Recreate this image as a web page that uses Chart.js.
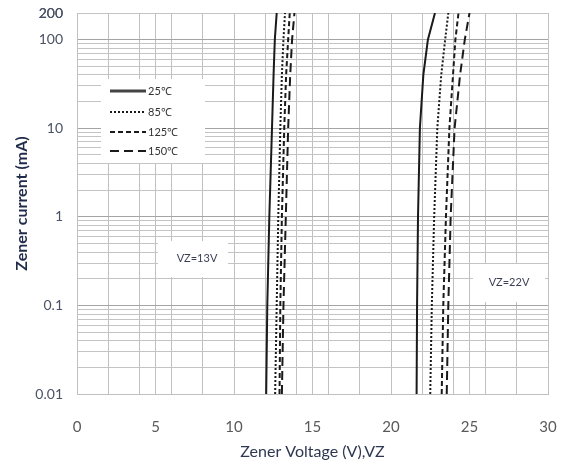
<!DOCTYPE html>
<html>
<head>
<meta charset="utf-8">
<script src="https://cdn.jsdelivr.net/npm/chart.js@4.4.1/dist/chart.umd.min.js"></script>
<style>
  html, body { margin: 0; padding: 0; background: #fff; }
  #chart1 { display: block; }
</style>
</head>
<body>
<canvas id="chart1" width="572" height="463"></canvas>
<script>
    // currents (mA) where the curves were read
    let currents = [0.01, 0.1, 1, 10, 40, 100, 200];

    // VZ=13V part, volts per temperature
    let v13_25 = [12.05, 12.12, 12.25, 12.42, 12.52, 12.6, 12.72];
    let v13_85 = [12.62, 12.72, 12.82, 12.95, 13.05, 13.15, 13.25];
    let v13_125 = [12.9, 12.95, 13.05, 13.2, 13.32, 13.45, 13.55];
    let v13_150 = [13.05, 13.15, 13.3, 13.45, 13.58, 13.7, 13.85];

    // VZ=22V part
    let v22_25 = [21.63, 21.66, 21.72, 21.84, 22.06, 22.35, 22.8];
    let v22_85 = [22.5, 22.6, 22.75, 22.95, 23.2, 23.45, 23.65];
    let v22_125 = [23.23, 23.33, 23.5, 23.72, 23.95, 24.1, 24.3];
    let v22_150 = [23.55, 23.65, 23.8, 24.05, 24.4, 24.7, 25.0];

    let tempLabels = ['25\u2103', '85\u2103', '125\u2103', '150\u2103'];
    let dashes = [[], [2, 2], [5, 3], [9, 5]];

    let xTickLabels = [0, 5, 10, 15, 20, 25, 30];
    let xGridLines = [0, 2, 4, 5, 6, 8, 10, 12, 14, 15, 16, 18, 20, 22, 24, 25, 26, 28, 30];
    let yTickLabels = [0.01, 0.1, 1, 10, 100, 200];

    function pts(volts) {
        return volts.map((v, i) => ({x: v, y: currents[i]}));
    }

    function curve(volts, t) {
        return {
            label: tempLabels[t],
            data: pts(volts),
            showLine: true,
            borderColor: '#1a1a1a',
            borderWidth: 2,
            borderDash: dashes[t],
            pointRadius: 0,
            tension: 0
        };
    }

    // y gridlines: 1..9 in every decade plus the top value
    let yGrid = [];
    for (let d = 0.01; d < 150; d *= 10) {
        for (let k = 1; k <= 9; k++) yGrid.push(Number((k * d).toPrecision(3)));
    }
    yGrid.push(200);

    let overlay = {
        id: 'overlay',
        afterDatasetsDraw(chart) {
            let ctx = chart.ctx;
            ctx.save();
            // legend box
            ctx.fillStyle = '#fff';
            ctx.fillRect(101, 79, 104, 84);
            ctx.fillRect(158, 241, 70, 36);
            ctx.fillRect(473, 264, 72, 38);
            let rows = [91, 112, 132, 151];
            for (let i = 0; i < 4; i++) {
                ctx.beginPath();
                ctx.strokeStyle = i === 0 ? '#444' : '#1a1a1a';
                ctx.lineWidth = i === 0 ? 3 : 2;
                ctx.setLineDash(dashes[i]);
                ctx.moveTo(110, rows[i]);
                ctx.lineTo(146, rows[i]);
                ctx.stroke();
            }
            ctx.setLineDash([]);
            ctx.fillStyle = '#333';
            ctx.font = '11px Lato';
            ctx.textBaseline = 'middle';
            ctx.textAlign = 'left';
            for (let i = 0; i < 4; i++) ctx.fillText(tempLabels[i], 148, rows[i]);
            ctx.textAlign = 'center';
            ctx.fillStyle = '#3a3f55';
            ctx.fillText('VZ=13V', 197, 258);
            ctx.fillText('VZ=22V', 509, 282);
            ctx.restore();
        }
    };

    let chart1 = document.getElementById('chart1').getContext('2d');

    let zenerChart = new Chart(chart1, {
    type:'scatter',
    data:{
    datasets:[
    curve(v13_25, 0), curve(v13_85, 1), curve(v13_125, 2), curve(v13_150, 3),
    curve(v22_25, 0), curve(v22_85, 1), curve(v22_125, 2), curve(v22_150, 3)
    ]
},
    options:{
    responsive:false,
    animation:false,
    devicePixelRatio:1,
    layout:{
    padding:{left:0, right:24, top:13, bottom:0}
},
    plugins:{
    legend:{display:false},
    tooltip:{enabled:false}
},
    scales:{
    x:{
    type:'linear',
    min:0,
    max:30,
    afterBuildTicks:function(scale){
        scale.ticks = xGridLines.map(v => ({value: v}));
    },
    afterFit:function(scale){ scale.height = 69; },
    grid:{
    color:'#c0c0c0',
    drawTicks:true,
    tickLength:24,
    tickColor:'rgba(0,0,0,0)'
},
    border:{color:'#c0c0c0'},
    ticks:{
    autoSkip:false,
    maxRotation:0,
    padding:0,
    color:'#5a5a5a',
    font:{family:'Lato', size:15},
    callback:function(value){
        return xTickLabels.includes(value) ? String(value) : '';
    }
},
    title:{
    display:true,
    text:'Zener Voltage (V),VZ',
    color:'#2d3850',
    font:{family:'Lato', size:16},
    padding:{top:0, bottom:2}
}
},
    y:{
    type:'logarithmic',
    min:0.01,
    max:200,
    afterBuildTicks:function(scale){
        scale.ticks = yGrid.map(v => ({value: v}));
    },
    afterFit:function(scale){ scale.width = 77; },
    grid:{
    color:function(c){
        let v = c.tick ? c.tick.value : 0;
        return yTickLabels.includes(v) && v !== 200 ? '#a4a4a4' : '#c4c4c4';
    },
    drawTicks:true,
    tickLength:14,
    tickColor:'rgba(0,0,0,0)'
},
    border:{color:'#c0c0c0'},
    ticks:{
    autoSkip:false,
    padding:0,
    color:'#4a5266',
    font:{family:'Lato', size:14},
    callback:function(value){
        return yTickLabels.includes(value) ? String(value) : '';
    }
},
    title:{
    display:true,
    text:'Zener current (mA)',
    color:'#1f2b48',
    font:{family:'Lato', size:16, weight:'bold'},
    padding:{top:12, bottom:0}
}
}
}
},
    plugins:[overlay]
});
</script>
</body>
</html>
